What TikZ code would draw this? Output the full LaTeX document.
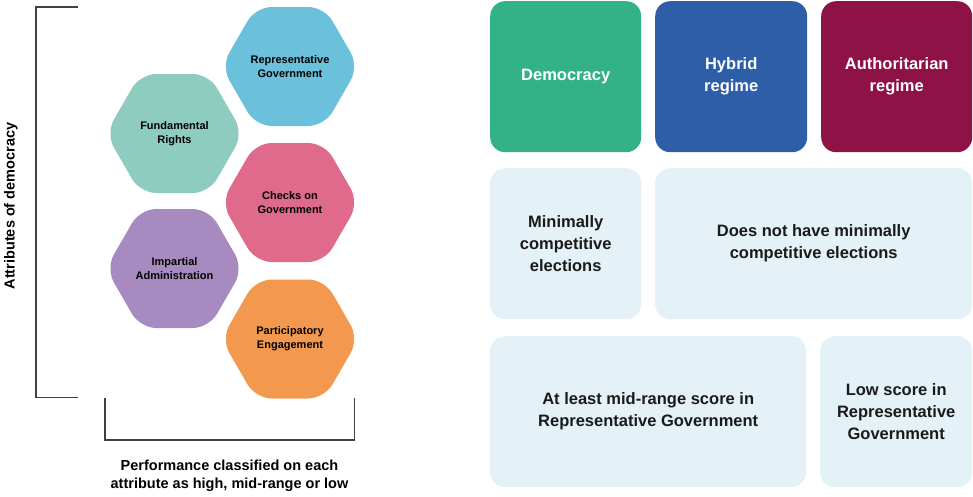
\documentclass[tikz,border=0pt]{standalone}
\usepackage{fontspec}
\setmainfont{Liberation Sans}
\usetikzlibrary{shapes.geometric}
\definecolor{demgreen}{HTML}{34B287}
\definecolor{hybblue}{HTML}{2F5EA8}
\definecolor{authred}{HTML}{8E1246}
\definecolor{lightbox}{HTML}{E4F1F6}
\definecolor{hexblue}{HTML}{6BC1DC}
\definecolor{hexteal}{HTML}{8ECCBF}
\definecolor{hexpink}{HTML}{E06A8C}
\definecolor{hexpurple}{HTML}{A78AC0}
\definecolor{hexorange}{HTML}{F2994F}
\definecolor{darktext}{HTML}{1A1A1A}
\begin{document}
\begin{tikzpicture}[x=1pt,y=-1pt,
  box/.style={rectangle, rounded corners=15pt, anchor=north west, inner sep=0pt, align=center,
    font=\bfseries\fontsize{16.5}{22}\selectfont},
  lbox/.style={box, fill=lightbox, text=darktext},
  hexa/.style={regular polygon, regular polygon sides=6, minimum size=137.4pt, inner sep=0pt,
    outer sep=0pt, rounded corners=16pt, align=center, text=black,
    font=\bfseries\fontsize{11}{14}\selectfont},
  bracket/.style={draw=black!75, line width=1.2pt},
  axislabel/.style={align=center, text=black, font=\bfseries\fontsize{14.5}{18}\selectfont}]
\useasboundingbox (0,0) rectangle (973,496);

% regime boxes
\node[box, fill=demgreen, text=white, minimum width=151pt, minimum height=151pt] (dem) at (490,1) {Democracy};
\node[box, fill=hybblue, text=white, minimum width=152pt, minimum height=151pt] (hyb) at (655,1) {Hybrid\\regime};
\node[box, fill=authred, text=white, minimum width=151pt, minimum height=151pt] (aut) at (821,1) {Authoritarian\\regime};

\node[lbox, minimum width=151pt, minimum height=151pt] (mce) at (490,168) {Minimally\\competitive\\elections};
\node[lbox, minimum width=317pt, minimum height=151pt] (nmce) at (655,168) {Does not have minimally\\competitive elections};

\node[lbox, minimum width=316pt, minimum height=151pt] (mid) at (490,336) {At least mid-range score in\\Representative Government};
\node[lbox, minimum width=152pt, minimum height=151pt] (low) at (820,336) {Low score in\\Representative\\Government};

% hexagons
\node[hexa, fill=hexblue] (rep) at (290,66.5) {Representative\\Government};
\node[hexa, fill=hexteal] (fun) at (174.5,133.5) {Fundamental\\Rights};
\node[hexa, fill=hexpink] (chk) at (290,202.5) {Checks on\\Government};
\node[hexa, fill=hexpurple] (imp) at (174.5,268.5) {Impartial\\Administration};
\node[hexa, fill=hexorange] (par) at (290,339) {Participatory\\Engagement};

% brackets
\draw[bracket] (78,7) -- (36,7) -- (36,397.5) -- (78,397.5);
\draw[bracket] (105,398) -- (105,440) -- (354.5,440) -- (354.5,398);

% axis labels
\node[axislabel, rotate=90] (ylab) at (11,206) {Attributes of democracy};
\node[axislabel] (xlab) at (229.5,476) {Performance classified on each\\attribute as high, mid-range or low};
\end{tikzpicture}
\end{document}
